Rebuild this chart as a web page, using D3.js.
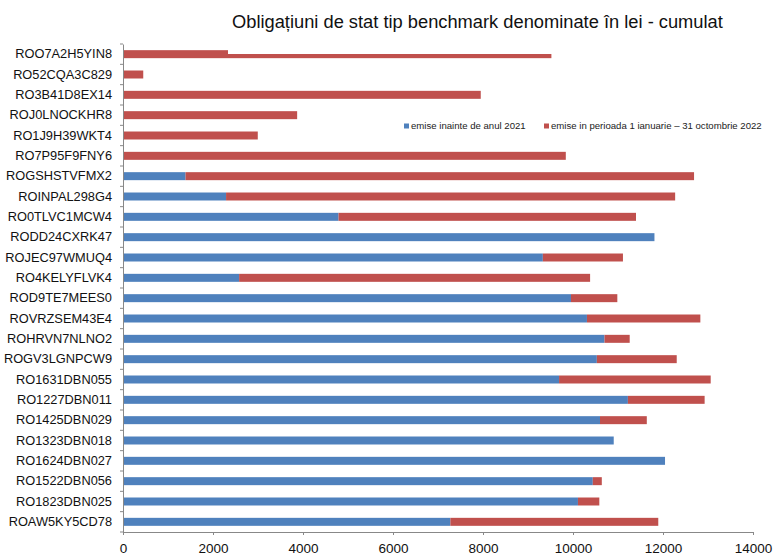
<!DOCTYPE html>
<html>
<head>
<meta charset="utf-8">
<script src="https://cdn.jsdelivr.net/npm/d3@7"></script>
<style>
  body { margin: 0; background: #fff; }
  svg { display: block; font-family: "Liberation Sans", Arial, Helvetica, sans-serif; }
</style>
</head>
<body>
<svg id="chart" width="773" height="555"></svg>
<script>
// bond codes, top to bottom
const categories = [
  'ROO7A2H5YIN8', 'RO52CQA3C829', 'RO3B41D8EX14', 'ROJ0LNOCKHR8', 'RO1J9H39WKT4',
  'RO7P95F9FNY6', 'ROGSHSTVFMX2', 'ROINPAL298G4', 'RO0TLVC1MCW4', 'RODD24CXRK47',
  'ROJEC97WMUQ4', 'RO4KELYFLVK4', 'ROD9TE7MEES0', 'ROVRZSEM43E4', 'ROHRVN7NLNO2',
  'ROGV3LGNPCW9', 'RO1631DBN055', 'RO1227DBN011', 'RO1425DBN029', 'RO1323DBN018',
  'RO1624DBN027', 'RO1522DBN056', 'RO1823DBN025', 'ROAW5KY5CD78'
];

// emise inainte de anul 2021
const before2021 = [
  0, 0, 0, 0, 0,
  0, 1390, 2290, 4790, 11810,
  9330, 2580, 9955, 10310, 10700,
  10530, 9690, 11220, 10600, 10905,
  12045, 10440, 10110, 7275
];

// emise in perioada 1 ianuarie - 31 octombrie 2022
const in2022 = [
  9520, 450, 7950, 3870, 2995,
  9840, 11300, 9980, 6610, 0,
  1780, 7800, 1030, 2520, 560,
  1775, 3370, 1705, 1040, 0,
  0, 200, 475, 4620
];

const seriesNames = ['emise inainte de anul 2021', 'emise in perioada 1 ianuarie \u2013 31 octombrie 2022'];
const seriesColors = ['#4F81BD', '#C0504D'];
const xTicks = [0, 2000, 4000, 6000, 8000, 10000, 12000, 14000];

const axisColor = '#888';
const svg = d3.select('#chart');

const x = d3.scaleLinear().domain([0, 14000]).range([123, 753]);
const y = d3.scaleBand().domain(categories).range([44, 532])
  .paddingInner(0.607).paddingOuter(0.3035);

const rows = categories.map((c, i) => ({ name: c, before2021: before2021[i], in2022: in2022[i] }));
const stacked = d3.stack().keys(['before2021', 'in2022'])(rows);

// bars
svg.append('g')
  .selectAll('g')
  .data(stacked)
  .join('g')
  .attr('fill', (d, i) => seriesColors[i])
  .selectAll('rect')
  .data(d => d)
  .join('rect')
  .attr('x', d => x(d[0]))
  .attr('y', d => y(d.data.name))
  .attr('width', d => Math.max(0, x(d[1]) - x(d[0])))
  .attr('height', y.bandwidth());

// title area covers the top of the first bar
svg.append('rect')
  .attr('x', 228).attr('y', 0)
  .attr('width', 545).attr('height', 54)
  .attr('fill', '#fff');

// x axis
const xAxis = svg.append('g')
  .attr('transform', `translate(0,${532})`)
  .call(d3.axisBottom(x).tickValues(xTicks).tickFormat(d3.format('d'))
    .tickSizeInner(3).tickSizeOuter(0).tickPadding(8));
xAxis.select('.domain').attr('stroke', axisColor);
xAxis.selectAll('.tick line').attr('stroke', axisColor);
xAxis.selectAll('.tick text')
  .attr('font-size', '13.5px')
  .attr('font-family', '"Liberation Sans", Arial, sans-serif')
  .attr('fill', '#111');

// y axis
const yAxis = svg.append('g')
  .attr('transform', `translate(${x(0)},0)`)
  .call(d3.axisLeft(y).tickSize(0).tickPadding(11));
yAxis.select('.domain').attr('stroke', axisColor);
yAxis.selectAll('.tick text')
  .attr('font-size', '12.8px')
  .attr('font-family', '"Liberation Sans", Arial, sans-serif')
  .attr('fill', '#111');

// tick marks between categories
const bounds = d3.range(categories.length + 1).map(i => y.range()[0] + i * y.step());
svg.append('g')
  .selectAll('line')
  .data(bounds)
  .join('line')
  .attr('x1', x(0) - 3).attr('x2', x(0))
  .attr('y1', d => d).attr('y2', d => d)
  .attr('stroke', axisColor);

// title
svg.append('text')
  .attr('x', 232).attr('y', 28)
  .attr('font-size', '18.3px')
  .attr('fill', '#111')
  .text('Obliga\u021Biuni de stat tip benchmark denominate \u00EEn lei - cumulat');

// legend
const legendX = [404, 544];
const legend = svg.append('g')
  .selectAll('g')
  .data(seriesNames)
  .join('g')
  .attr('transform', (d, i) => `translate(${legendX[i]},126)`);
legend.append('rect')
  .attr('x', 0).attr('y', -2.5)
  .attr('width', 5).attr('height', 5)
  .attr('fill', (d, i) => seriesColors[i]);
legend.append('text')
  .attr('x', 7).attr('y', 3.3)
  .attr('font-size', '9.6px')
  .attr('fill', '#222')
  .text(d => d);
</script>
</body>
</html>
